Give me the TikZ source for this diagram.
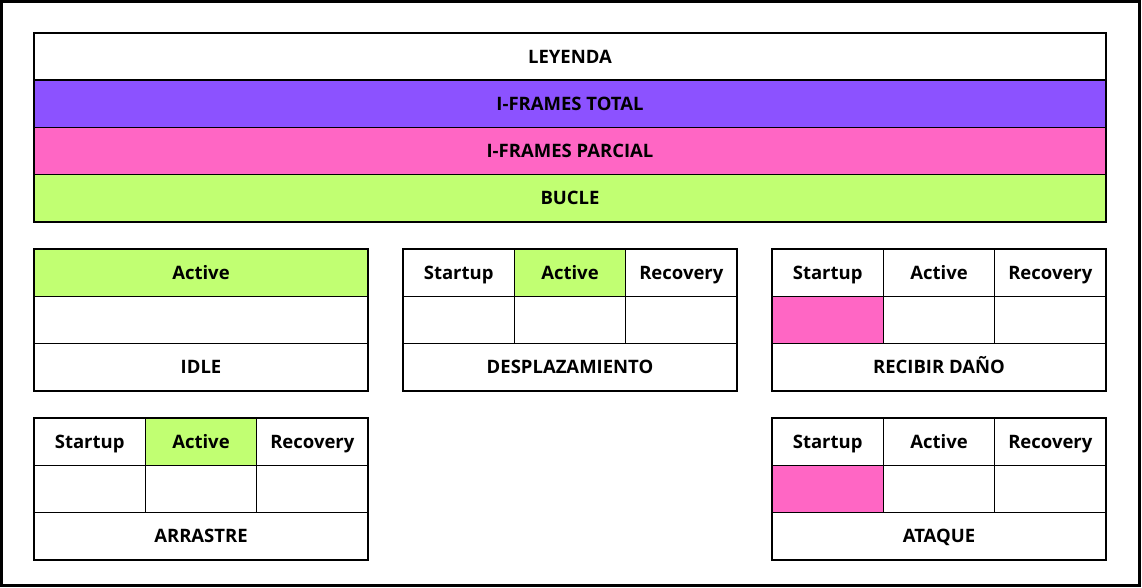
\documentclass[tikz,border=0pt]{standalone}
\usepackage{fontspec}
\setmainfont{Open Sans}
\usepackage{xcolor}
\usetikzlibrary{positioning}

\definecolor{iftotal}{HTML}{8C52FF}
\definecolor{ifparcial}{HTML}{FF66C4}
\definecolor{bucle}{HTML}{C1FF72}

\begin{document}
\begin{tikzpicture}[
    x=1pt, y=-1pt,
    node distance=0pt and 0pt,
    cell/.style={draw, line width=1.5pt, inner sep=0pt, outer sep=0pt,
      minimum width=111.33pt, minimum height=47.33pt,
      text height=13.2pt, text depth=0pt,
      font=\fontsize{18.5}{22}\selectfont\bfseries},
    wide/.style={cell, minimum width=334pt},
    legend/.style={cell, minimum width=1072pt, minimum height=47.25pt}
  ]
    \useasboundingbox (0,0) rectangle (1142,588);
    \draw[line width=3pt] (1.5,1.5) rectangle (1139.5,585.5);

    % leyenda
    \node[legend, anchor=north west] (leyenda) at (34,33) {LEYENDA};
    \node[legend, fill=iftotal, below=of leyenda] (total) {I-FRAMES TOTAL};
    \node[legend, fill=ifparcial, below=of total] (parcial) {I-FRAMES PARCIAL};
    \node[legend, fill=bucle, below=of parcial] (bucleleg) {BUCLE};

    % idle
    \node[wide, fill=bucle, anchor=north west] (idle-a) at (34,249) {Active};
    \node[wide, below=of idle-a] (idle-f) {};
    \node[wide, below=of idle-f] (idle-n) {IDLE};

    % estados con tres fases
    \foreach \id/\x/\y/\sfill/\afill/\name in {
        desp/403/249/white/bucle/DESPLAZAMIENTO,
        dano/772/249/ifparcial/white/RECIBIR DAÑO,
        arr/34/418/white/bucle/ARRASTRE,
        atq/772/418/ifparcial/white/ATAQUE} {
      \node[cell, anchor=north west] (\id-s) at (\x,\y) {Startup};
      \node[cell, fill=\afill, right=of \id-s] (\id-a) {Active};
      \node[cell, right=of \id-a] (\id-r) {Recovery};
      \node[cell, fill=\sfill, below=of \id-s] (\id-sf) {};
      \node[cell, below=of \id-a] (\id-af) {};
      \node[cell, below=of \id-r] (\id-rf) {};
      \node[wide, below=of \id-af] (\id-n) {\name};
    }
\end{tikzpicture}
\end{document}
